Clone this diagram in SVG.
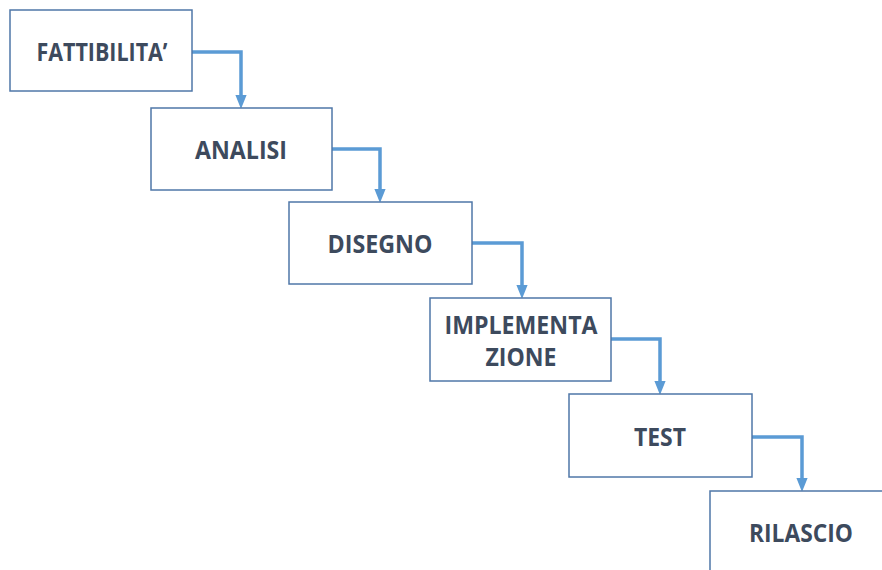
<svg xmlns="http://www.w3.org/2000/svg" width="882" height="570" viewBox="0 0 882 570">
<defs>
<style>
.box{fill:#fff;stroke:#4f77a8;stroke-width:1.5}
.lbl{font-family:"Open Sans","Liberation Sans",sans-serif;font-weight:700;font-size:25px;fill:#3d4a5d;text-anchor:middle;dominant-baseline:central}
.con{fill:none;stroke:#5b9bd5;stroke-width:3.5;stroke-linejoin:miter}
</style>
<marker id="ah" markerWidth="4" markerHeight="4" refX="2" refY="2" orient="auto" markerUnits="strokeWidth" viewBox="0 0 4 4">
<path d="M0,0.4 L4,2 L0,3.6 Z" fill="#5b9bd5"/>
</marker>
</defs>
<rect width="882" height="570" fill="#fff"/>
<g id="connectors">
<path class="con" d="M192,52 H241 V102" marker-end="url(#ah)"/>
<path class="con" d="M332,149 H380 V196" marker-end="url(#ah)"/>
<path class="con" d="M472,243 H522 V292" marker-end="url(#ah)"/>
<path class="con" d="M611,339 H660 V388" marker-end="url(#ah)"/>
<path class="con" d="M752,437 H802 V485" marker-end="url(#ah)"/>
</g>
<g id="fattibilita">
<rect class="box" x="10" y="10" width="182" height="81"/>
<text class="lbl" x="102" y="51" textLength="131" lengthAdjust="spacingAndGlyphs">FATTIBILITA’</text>
</g>
<g id="analisi">
<rect class="box" x="151" y="108" width="181" height="82"/>
<text class="lbl" x="241" y="149" textLength="92" lengthAdjust="spacingAndGlyphs">ANALISI</text>
</g>
<g id="disegno">
<rect class="box" x="289" y="202" width="183" height="82"/>
<text class="lbl" x="380" y="243" textLength="105" lengthAdjust="spacingAndGlyphs">DISEGNO</text>
</g>
<g id="implementazione">
<rect class="box" x="430" y="298" width="181" height="83"/>
<text class="lbl" x="521" y="324" textLength="153" lengthAdjust="spacingAndGlyphs">IMPLEMENTA</text>
<text class="lbl" x="521" y="356" textLength="71" lengthAdjust="spacingAndGlyphs">ZIONE</text>
</g>
<g id="test">
<rect class="box" x="569" y="394" width="183" height="83"/>
<text class="lbl" x="660" y="436" textLength="52" lengthAdjust="spacingAndGlyphs">TEST</text>
</g>
<g id="rilascio">
<rect class="box" x="710" y="491" width="190" height="100"/>
<text class="lbl" x="801" y="532" textLength="104" lengthAdjust="spacingAndGlyphs">RILASCIO</text>
</g>
</svg>
